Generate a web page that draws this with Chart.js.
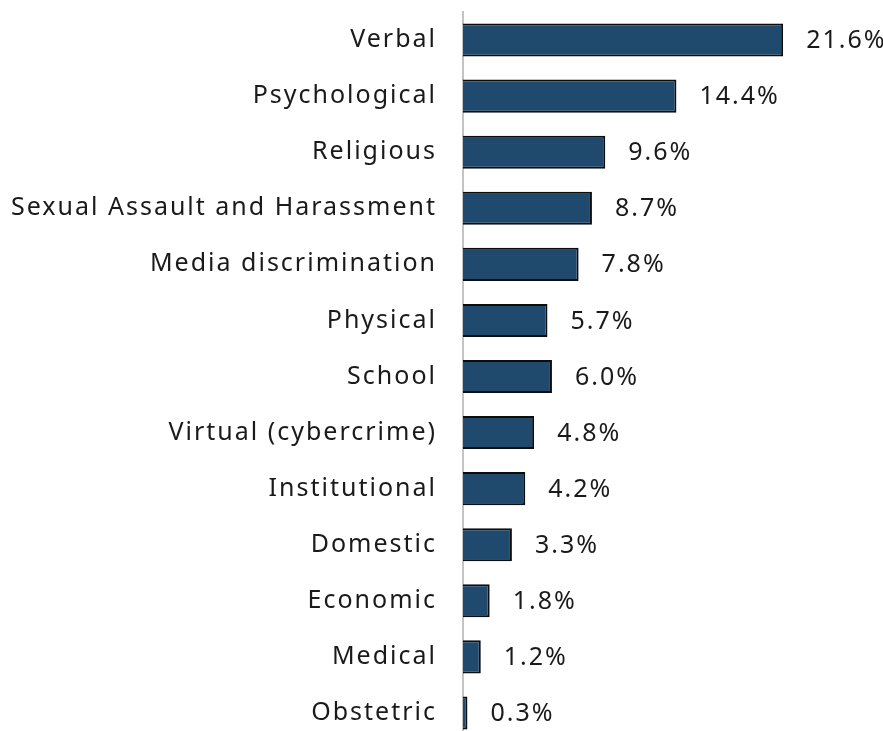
<!DOCTYPE html>
<html>
<head>
<meta charset="utf-8">
<script src="https://cdn.jsdelivr.net/npm/chart.js@4/dist/chart.umd.min.js"></script>
<style>
    html, body { margin: 0; padding: 0; background: #ffffff; overflow: hidden; }
    #chart { display: block; }
</style>
</head>
<body>
<canvas id="chart" width="883" height="745"></canvas>
<script>
var categories = ["Verbal", "Psychological", "Religious", "Sexual Assault and Harassment",
    "Media discrimination", "Physical", "School", "Virtual (cybercrime)", "Institutional",
    "Domestic", "Economic", "Medical", "Obstetric"];
var shares = [21.6, 14.4, 9.6, 8.7, 7.8, 5.7, 6.0, 4.8, 4.2, 3.3, 1.8, 1.2, 0.3];

var FONT = "'Noto Sans', sans-serif";
var SPACING = "2px";

// Wider letter spacing for every text drawn on the chart
var spacing = {
    id: "spacing",
    beforeDraw: function(chart) {
        chart.ctx.letterSpacing = SPACING;
    }
};

// Writes the value to the right of each bar
var valueLabels = {
    id: "valueLabels",
    afterDatasetsDraw: function(chart) {
        var ctx = chart.ctx;
        var meta = chart.getDatasetMeta(0);
        ctx.save();
        ctx.letterSpacing = SPACING;
        ctx.font = "25px " + FONT;
        ctx.fillStyle = "#1a1a1a";
        ctx.textBaseline = "middle";
        ctx.textAlign = "left";
        for (var i = 0; i < meta.data.length; ++i)
        {
            var bar = meta.data[i];
            ctx.fillText(shares[i].toFixed(1) + "%", bar.x + 23, bar.y + 1);
        }
        ctx.restore();
    }
};

var ctx = document.getElementById("chart").getContext("2d");
var chart = new Chart(ctx, {
    type: "bar",
    data: {
        labels: categories,
        datasets: [{
            data: shares,
            backgroundColor: "#1f4a6d",
            borderColor: "#0d0d0d",
            borderWidth: 2,
            borderSkipped: "left",
            categoryPercentage: 1.0,
            barPercentage: 0.59
        }]
    },
    options: {
        indexAxis: "y",
        responsive: false,
        animation: false,
        layout: { padding: { top: 12, right: 5, bottom: 4, left: 0 } },
        plugins: {
            legend: { display: false },
            tooltip: { enabled: false }
        },
        scales: {
            x: {
                display: false,
                min: 0,
                max: 28
            },
            y: {
                grid: { display: false, drawTicks: false },
                border: { display: true, color: "#c4c4c4", width: 2 },
                ticks: {
                    color: "#1a1a1a",
                    padding: 26,
                    font: { family: FONT, size: 25 }
                },
                afterFit: function(scale) {
                    scale.width = 463;
                    // labels sit in the middle of each band, no extra room needed
                    scale.paddingTop = 0;
                    scale.paddingBottom = 0;
                }
            }
        }
    },
    plugins: [spacing, valueLabels]
});
</script>
</body>
</html>
